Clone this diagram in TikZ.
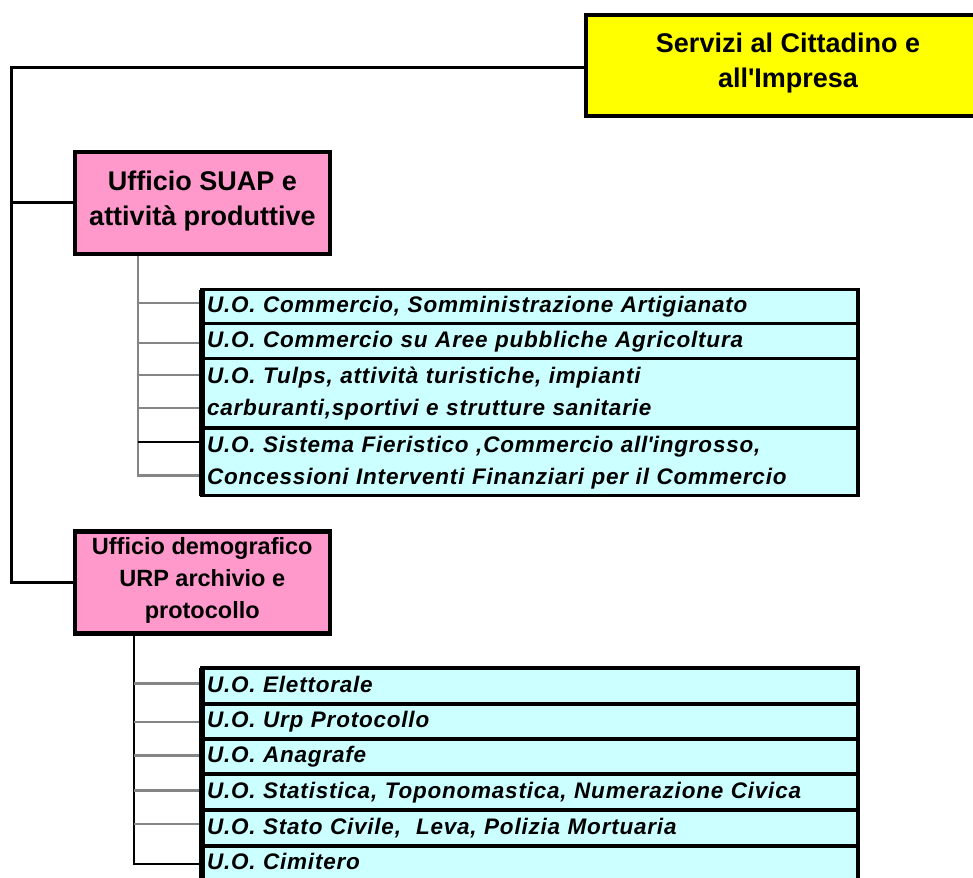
\documentclass[tikz,border=0pt]{standalone}
\usepackage{fontspec}
\setmainfont{Liberation Sans}
\newfontfamily\uofamily[LetterSpace=3.5]{Liberation Sans}
\definecolor{boxyellow}{HTML}{FFFF00}
\definecolor{boxpink}{HTML}{FF99CC}
\definecolor{rowcyan}{HTML}{CCFFFF}
\definecolor{linegray}{HTML}{858585}
\pgfdeclarelayer{bg}
\pgfsetlayers{bg,main}
\tikzset{
  headbox/.style={draw=black, line width=4.5pt, fill=boxyellow, align=center, outer sep=0pt,
    inner sep=0pt, font=\fontsize{27}{35}\selectfont\bfseries,
    execute at begin node=\strut, execute at end node=\strut},
  officebox/.style={draw=black, line width=4.5pt, fill=boxpink, align=center, outer sep=0pt,
    inner sep=0pt, minimum width=255pt, minimum height=102pt},
  uorow/.style={draw=black, line width=3.5pt, fill=rowcyan, minimum width=656pt,
    text width=646pt, inner xsep=5pt, inner ysep=0pt, outer sep=0pt, align=left, anchor=north west,
    font=\uofamily\fontsize{22.5}{32}\selectfont\bfseries\itshape,
    execute at begin node=\strut, execute at end node=\strut},
  mainline/.style={draw=black, line width=3pt},
  graylink/.style={draw=linegray, line width=2.5pt},
  blacklink/.style={draw=black, line width=2pt},
  tableedge/.style={draw=black, line width=5.5pt}
}
\begin{document}
\begin{tikzpicture}[x=1pt,y=-1pt]
\useasboundingbox (0,0) rectangle (973,877);
\clip (0,0) rectangle (973,877);

% boxes
\node[headbox, minimum width=404pt, minimum height=101pt] (title) at (788,65.5)
  {Servizi al Cittadino e\\all\textquotesingle Impresa};
\node[officebox, font=\fontsize{27}{35}\selectfont\bfseries,
  execute at begin node=\strut, execute at end node=\strut] (suap) at (202.5,203)
  {Ufficio SUAP e\\attività produttive};
\node[officebox, font=\fontsize{23.5}{32}\selectfont\bfseries,
  execute at begin node=\strut, execute at end node=\strut] (demo) at (202.25,582.5)
  {Ufficio demografico\\URP archivio e\\protocollo};

% table 1
\node[uorow, minimum height=34pt] (r1) at (202,289.5) {U.O. Commercio, Somministrazione Artigianato};
\node[uorow, minimum height=35pt] (r2) at (202,323.5) {U.O. Commercio su Aree pubbliche Agricoltura};
\node[uorow, minimum height=69.5pt] (r3) at (202,358.5) {U.O. Tulps, attività turistiche, impianti\\carburanti,sportivi e strutture sanitarie};
\node[uorow, minimum height=67.5pt] (r4) at (202,428) {U.O. Sistema Fieristico ,Commercio all\textquotesingle ingrosso,\\Concessioni Interventi Finanziari per il Commercio};
\draw[tableedge] (r1.north west) -- (r4.south west);

% table 2
\node[uorow, minimum height=36pt] (u1) at (202,668) {U.O. Elettorale};
\node[uorow, minimum height=35pt] (u2) at (202,704) {U.O. Urp Protocollo};
\node[uorow, minimum height=35pt] (u3) at (202,739) {U.O. Anagrafe};
\node[uorow, minimum height=36pt] (u4) at (202,774) {U.O. Statistica, Toponomastica, Numerazione Civica};
\node[uorow, minimum height=36pt] (u5) at (202,810) {U.O. Stato Civile,\ \ Leva, Polizia Mortuaria};
\node[uorow, minimum height=34pt] (u6) at (202,846) {U.O. Cimitero};
\draw[tableedge] (u1.north west) -- (u6.south west);

\begin{pgfonlayer}{bg}
% main tree
\coordinate (s0) at (11,68);
\draw[mainline] ([yshift=-2.5pt]title.west) -- (s0) -- (s0 |- demo.west) -- (demo.west);
\draw[mainline] (s0 |- suap.west) -- (suap.west);

% SUAP branches
\coordinate (a1) at (138,303);
\coordinate (a2) at (138,343);
\coordinate (a3) at (138,375);
\coordinate (a4) at (138,408);
\coordinate (a5) at (138,442);
\coordinate (a6) at (138,475.5);
\draw[graylink, line width=2pt] (suap.south -| a1) -- ([yshift=-1pt]a6);
\draw[graylink] (a1) -- (a1 -| r1.west);
\draw[graylink] (a2) -- (a2 -| r2.west);
\draw[graylink] (a3) -- (a3 -| r3.west);
\draw[graylink] (a4) -- (a4 -| r3.west);
\draw[blacklink] (a5) -- (a5 -| r4.west);
\draw[graylink] (a6) -- (a6 -| r4.west);

% demografico branches
\coordinate (d1) at (134,683.5);
\coordinate (d2) at (134,722);
\coordinate (d3) at (134,755.5);
\coordinate (d4) at (134,790.5);
\coordinate (d5) at (134,824);
\coordinate (d6) at (134,863.5);
\draw[blacklink] (demo.south -| d1) -- ([yshift=-1pt]d6);
\draw[graylink] (d1) -- (d1 -| u1.west);
\draw[graylink] (d2) -- (d2 -| u2.west);
\draw[graylink] (d3) -- (d3 -| u3.west);
\draw[graylink] (d4) -- (d4 -| u4.west);
\draw[graylink] (d5) -- (d5 -| u5.west);
\draw[blacklink] (d6) -- (d6 -| u6.west);
\end{pgfonlayer}
\end{tikzpicture}
\end{document}
